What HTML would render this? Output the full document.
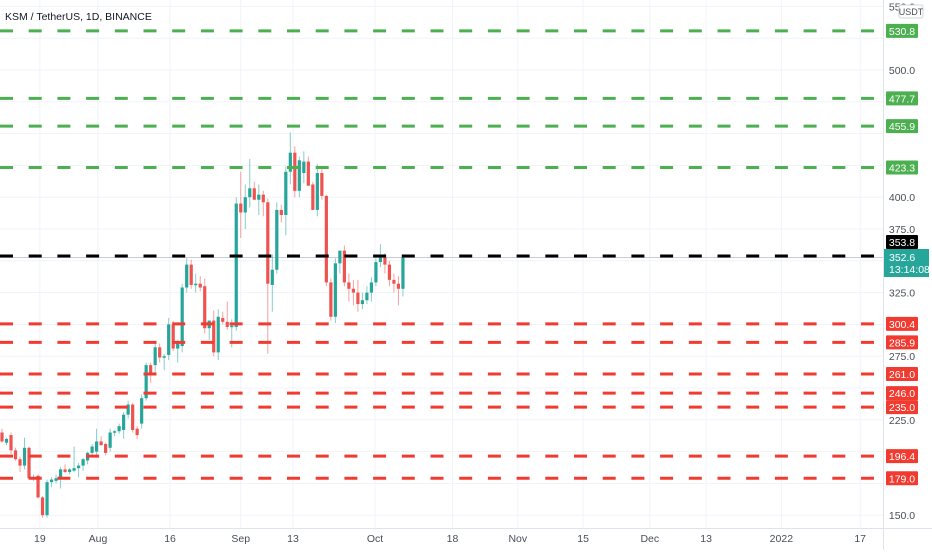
<!DOCTYPE html>
<html><head><meta charset="utf-8"><style>
body{margin:0;background:#fff;width:932px;height:550px;overflow:hidden;font-family:"Liberation Sans",sans-serif}
svg text{font-family:"Liberation Sans",sans-serif}
</style></head><body>
<svg id="c" width="932" height="550"></svg>
<script>
const levelsGreen=[530.8,477.7,455.9,423.3];
const levelsRed=[300.4,285.9,261.0,246.0,235.0,196.4,179.0];
const levelBlack=[353.8];
const priceTicks=[550,525,500,475,450,425,400,375,350,325,300,275,250,225,200,175,150];
const shownTicks=["550.0","","500.0","","","","400.0","375.0","","325.0","","275.0","","225.0","","","150.0"];
const dateLabels=["19","Aug","16","Sep","13","Oct","18","Nov","15","Dec","13","2022","17"];
const dateDays=[8.4,21.3,37.3,53,64.6,82.8,100,114.5,129,143.8,156.3,173,190.5];
const opens=[215,207,213,201,194,189,203,179,181,164,150,176,177,179,186,184,185,187,189,193,199,200,208,206,203,215,216,217,229,237,218,222,242,268,268,282,274,276,300,281,283,329,347,331,332,330,297,303,278,305,302,298,298,395,388,400,407,398,402,396,331,343,390,386,420,435,405,419,428,410,390,419,401,333,306,348,358,333,328,325,316,319,325,333,349,353,347,335,332,328];
const highs=[218,211,215,203,196,211,204,182,182,165,178,180,182,188,190,187,204,191,195,200,206,218,212,207,218,217,222,231,240,238,220,245,270,270,285,285,277,305,303,288,332,352,351,340,338,336,303,311,312,310,318,304,400,420,410,430,412,410,405,399,355,396,394,424,451,440,432,436,432,412,426,423,402,336,352,358,362,340,335,335,325,330,337,352,363,356,350,340,338,355];
const lows=[207,205,198,193,184,186,178,177,163,148,148,172,175,171,183,182,184,180,185,190,196,196,205,197,200,212,214,210,226,215,210,218,240,254,262,270,264,272,279,270,278,325,328,325,326,293,288,275,272,300,296,282,295,368,375,392,398,386,385,277,310,340,380,370,410,400,400,411,410,390,385,398,330,303,301,340,330,318,315,310,312,316,318,330,345,340,330,325,315,322];
const closes=[208,210,201,194,189,203,179,180,164,150,176,178,179,186,184,186,187,189,194,199,204,208,205,199,215,216,220,229,237,217,213,242,268,262,282,274,275,300,281,285,329,347,331,332,329,297,303,278,306,302,298,299,395,388,400,407,398,402,396,332,343,390,386,420,435,405,429,428,409,390,419,401,333,306,348,358,333,328,325,316,319,325,333,349,353,347,335,332,328,352.6];

const NS="http://www.w3.org/2000/svg";
const svg=document.getElementById('c');
const plotW=883, axisBottom=528;
const y=p=>70+(500-p)*1.272;
const x=i=>2+i*4.505;
function mk(tag,attrs,parent){const e=document.createElementNS(NS,tag);for(const k in attrs)e.setAttribute(k,attrs[k]);(parent||svg).appendChild(e);return e;}

const grid=mk('g',{});


priceTicks.forEach(p=>{const l=mk('line',{x1:0,x2:plotW,y1:y(p),y2:y(p),stroke:'#f0f3fa','stroke-width':1},grid);

});
dateDays.forEach(d=>{const l=mk('line',{x1:x(d),x2:x(d),y1:0,y2:axisBottom,stroke:'#f0f3fa','stroke-width':1},grid);

});

const ab=mk('line',{x1:0,x2:932,y1:axisBottom+0.5,y2:axisBottom+0.5,stroke:'#e0e3eb'});


const pb=mk('line',{x1:plotW+0.5,x2:plotW+0.5,y1:0,y2:550,stroke:'#e0e3eb'});



const cl=mk('line',{x1:0,x2:plotW,y1:y(352.6),y2:y(352.6),stroke:'#c8ccd4','stroke-width':1});



const cg=mk('g',{});


opens.forEach((o,i)=>{
  const c=closes[i],up=c>=o,col=up?'#26a69a':'#ef5350';
  const g=mk('g',{},cg);
  
  
  mk('line',{x1:x(i),x2:x(i),y1:y(highs[i]),y2:y(lows[i]),stroke:col,'stroke-width':1,opacity:0.55},g);
  const t=Math.min(y(o),y(c)),h=Math.max(1.5,Math.abs(y(o)-y(c)));
  mk('rect',{x:x(i)-1.6,y:t,width:3.2,height:h,fill:col},g);
});

function level(p,col,label,name,dy){
  dy=dy||0;
  const g=mk('g',{});
  
  
  mk('line',{x1:0,x2:plotW-3,y1:y(p),y2:y(p),stroke:col,'stroke-width':3,'stroke-dasharray':'13 15.7'},g);
  mk('rect',{x:886,y:y(p)-7+dy,width:32,height:14,fill:col,rx:1},g);
  const t=mk('text',{x:902,y:y(p)+4+dy,'font-size':10.5,fill:'#fff','text-anchor':'middle'},g);t.textContent=label;
}
const tg=mk('g',{});


priceTicks.forEach((p,i)=>{if(!shownTicks[i])return;const t=mk('text',{x:902,y:y(p)+4,'font-size':10.5,fill:'#4a4e59','text-anchor':'middle'},tg);t.textContent=shownTicks[i];});
levelsGreen.forEach(p=>level(p,'#4caf50',p.toFixed(1),'resistance-level'));
levelsRed.forEach(p=>level(p,'#f23b30',p.toFixed(1),'support-level'));
levelBlack.forEach(p=>level(p,'#000',p.toFixed(1),'key-level',-14));

const cp=mk('g',{});


mk('rect',{x:884,y:249,width:45,height:28,fill:'#26a69a'},cp);
let t1=mk('text',{x:889,y:261,'font-size':10.5,fill:'#fff'},cp);t1.textContent=closes[closes.length-1].toFixed(1);
let t2=mk('text',{x:889,y:273,'font-size':10.5,fill:'#fff'},cp);t2.textContent='13:14:08';

const ub=mk('g',{});


mk('rect',{x:899,y:5,width:24,height:13,fill:'#fff',stroke:'#d1d4dc',rx:2},ub);
let ut=mk('text',{x:911,y:15,'font-size':9,fill:'#4a4e59','text-anchor':'middle'},ub);ut.textContent='USDT';

const dg=mk('g',{});


dateLabels.forEach((d,i)=>{const t=mk('text',{x:x(dateDays[i]),y:542,'font-size':10.5,fill:'#4a4e59','text-anchor':'middle'},dg);t.textContent=d;});

const ti=mk('text',{x:5,y:20,'font-size':10.5,fill:'#131722'});


ti.textContent='KSM / TetherUS, 1D, BINANCE';
</script>
</body></html>
